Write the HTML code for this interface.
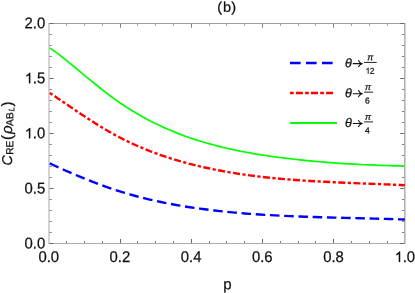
<!DOCTYPE html>
<html><head><meta charset="utf-8"><title>plot</title>
<style>
html,body{margin:0;padding:0;background:#fff;}
body{width:415px;height:293px;overflow:hidden;}
svg{display:block;will-change:transform;}
text{font-family:"Liberation Sans",sans-serif;fill:#111;stroke:#111;stroke-width:0.25px;text-rendering:geometricPrecision;}
</style></head><body>
<svg width="415" height="293" viewBox="0 0 415 293">
<rect width="415" height="293" fill="#fff"/>
<g shape-rendering="crispEdges">
<rect x="48" y="23" width="2" height="221" fill="#d3d3d3"/>
<rect x="404" y="23" width="1" height="221" fill="#b0b0b0"/>
<rect x="405" y="23" width="1" height="221" fill="#d4d4d4"/>
<rect x="49" y="23" width="356" height="1" fill="#9c9c9c"/>
<rect x="49" y="243" width="356" height="1" fill="#aaa"/>
</g>
<g stroke-width="1">
<rect x="66" y="241.00" width="1" height="2.00" fill="#808080"/>
<rect x="66" y="24" width="1" height="1.70" fill="#9a9a9a"/>
<rect x="84" y="241.00" width="1" height="2.00" fill="#808080"/>
<rect x="84" y="24" width="1" height="1.70" fill="#9a9a9a"/>
<rect x="102" y="241.00" width="1" height="2.00" fill="#808080"/>
<rect x="102" y="24" width="1" height="1.70" fill="#9a9a9a"/>
<rect x="120" y="239.00" width="1" height="4.00" fill="#6a6a6a"/>
<rect x="120" y="24" width="1" height="3.70" fill="#7c7c7c"/>
<rect x="137" y="241.00" width="1" height="2.00" fill="#808080"/>
<rect x="137" y="24" width="1" height="1.70" fill="#9a9a9a"/>
<rect x="155" y="241.00" width="1" height="2.00" fill="#808080"/>
<rect x="155" y="24" width="1" height="1.70" fill="#9a9a9a"/>
<rect x="173" y="241.00" width="1" height="2.00" fill="#808080"/>
<rect x="173" y="24" width="1" height="1.70" fill="#9a9a9a"/>
<rect x="191" y="239.00" width="1" height="4.00" fill="#6a6a6a"/>
<rect x="191" y="24" width="1" height="3.70" fill="#7c7c7c"/>
<rect x="209" y="241.00" width="1" height="2.00" fill="#808080"/>
<rect x="209" y="24" width="1" height="1.70" fill="#9a9a9a"/>
<rect x="226" y="241.00" width="1" height="2.00" fill="#808080"/>
<rect x="226" y="24" width="1" height="1.70" fill="#9a9a9a"/>
<rect x="244" y="241.00" width="1" height="2.00" fill="#808080"/>
<rect x="244" y="24" width="1" height="1.70" fill="#9a9a9a"/>
<rect x="262" y="239.00" width="1" height="4.00" fill="#6a6a6a"/>
<rect x="262" y="24" width="1" height="3.70" fill="#7c7c7c"/>
<rect x="280" y="241.00" width="1" height="2.00" fill="#808080"/>
<rect x="280" y="24" width="1" height="1.70" fill="#9a9a9a"/>
<rect x="298" y="241.00" width="1" height="2.00" fill="#808080"/>
<rect x="298" y="24" width="1" height="1.70" fill="#9a9a9a"/>
<rect x="315" y="241.00" width="1" height="2.00" fill="#808080"/>
<rect x="315" y="24" width="1" height="1.70" fill="#9a9a9a"/>
<rect x="333" y="239.00" width="1" height="4.00" fill="#6a6a6a"/>
<rect x="333" y="24" width="1" height="3.70" fill="#7c7c7c"/>
<rect x="351" y="241.00" width="1" height="2.00" fill="#808080"/>
<rect x="351" y="24" width="1" height="1.70" fill="#9a9a9a"/>
<rect x="369" y="241.00" width="1" height="2.00" fill="#808080"/>
<rect x="369" y="24" width="1" height="1.70" fill="#9a9a9a"/>
<rect x="387" y="241.00" width="1" height="2.00" fill="#808080"/>
<rect x="387" y="24" width="1" height="1.70" fill="#9a9a9a"/>
<rect x="49.5" y="243" width="4.00" height="1" fill="#6a6a6a"/>
<rect x="400.20" y="243" width="4.00" height="1" fill="#6a6a6a"/>
<rect x="49.5" y="232" width="2.20" height="1" fill="#808080"/>
<rect x="402.00" y="232" width="2.20" height="1" fill="#808080"/>
<rect x="49.5" y="221" width="2.20" height="1" fill="#808080"/>
<rect x="402.00" y="221" width="2.20" height="1" fill="#808080"/>
<rect x="49.5" y="210" width="2.20" height="1" fill="#808080"/>
<rect x="402.00" y="210" width="2.20" height="1" fill="#808080"/>
<rect x="49.5" y="199" width="2.20" height="1" fill="#808080"/>
<rect x="402.00" y="199" width="2.20" height="1" fill="#808080"/>
<rect x="49.5" y="188" width="4.00" height="1" fill="#6a6a6a"/>
<rect x="400.20" y="188" width="4.00" height="1" fill="#6a6a6a"/>
<rect x="49.5" y="177" width="2.20" height="1" fill="#808080"/>
<rect x="402.00" y="177" width="2.20" height="1" fill="#808080"/>
<rect x="49.5" y="166" width="2.20" height="1" fill="#808080"/>
<rect x="402.00" y="166" width="2.20" height="1" fill="#808080"/>
<rect x="49.5" y="155" width="2.20" height="1" fill="#808080"/>
<rect x="402.00" y="155" width="2.20" height="1" fill="#808080"/>
<rect x="49.5" y="144" width="2.20" height="1" fill="#808080"/>
<rect x="402.00" y="144" width="2.20" height="1" fill="#808080"/>
<rect x="49.5" y="133" width="4.00" height="1" fill="#6a6a6a"/>
<rect x="400.20" y="133" width="4.00" height="1" fill="#6a6a6a"/>
<rect x="49.5" y="122" width="2.20" height="1" fill="#808080"/>
<rect x="402.00" y="122" width="2.20" height="1" fill="#808080"/>
<rect x="49.5" y="111" width="2.20" height="1" fill="#808080"/>
<rect x="402.00" y="111" width="2.20" height="1" fill="#808080"/>
<rect x="49.5" y="100" width="2.20" height="1" fill="#808080"/>
<rect x="402.00" y="100" width="2.20" height="1" fill="#808080"/>
<rect x="49.5" y="89" width="2.20" height="1" fill="#808080"/>
<rect x="402.00" y="89" width="2.20" height="1" fill="#808080"/>
<rect x="49.5" y="78" width="4.00" height="1" fill="#6a6a6a"/>
<rect x="400.20" y="78" width="4.00" height="1" fill="#6a6a6a"/>
<rect x="49.5" y="67" width="2.20" height="1" fill="#808080"/>
<rect x="402.00" y="67" width="2.20" height="1" fill="#808080"/>
<rect x="49.5" y="56" width="2.20" height="1" fill="#808080"/>
<rect x="402.00" y="56" width="2.20" height="1" fill="#808080"/>
<rect x="49.5" y="45" width="2.20" height="1" fill="#808080"/>
<rect x="402.00" y="45" width="2.20" height="1" fill="#808080"/>
<rect x="49.5" y="34" width="2.20" height="1" fill="#808080"/>
<rect x="402.00" y="34" width="2.20" height="1" fill="#808080"/>
<rect x="49.5" y="23" width="4.00" height="1" fill="#6a6a6a"/>
<rect x="400.20" y="23" width="4.00" height="1" fill="#6a6a6a"/>
</g>
<clipPath id="cp"><rect x="49" y="23" width="356" height="221"/></clipPath>
<g fill="none" clip-path="url(#cp)">
<path d="M49.80,48.04 L54.80,51.39 L59.80,55.10 L64.80,59.05 L69.80,63.13 L74.80,67.26 L79.80,71.41 L84.80,75.56 L89.80,79.69 L94.80,83.77 L99.80,87.78 L104.80,91.70 L109.80,95.50 L114.80,99.17 L119.80,102.68 L124.80,106.03 L129.80,109.24 L134.80,112.30 L139.80,115.22 L144.80,118.01 L149.80,120.66 L154.80,123.19 L159.80,125.60 L164.80,127.89 L169.80,130.06 L174.80,132.13 L179.80,134.09 L184.80,135.96 L189.80,137.72 L194.80,139.40 L199.80,140.99 L204.80,142.50 L209.80,143.93 L214.80,145.29 L219.80,146.57 L224.80,147.79 L229.80,148.94 L234.80,150.02 L239.80,151.05 L244.80,152.02 L249.80,152.93 L254.80,153.80 L259.80,154.62 L264.80,155.39 L269.80,156.12 L274.80,156.81 L279.80,157.47 L284.80,158.09 L289.80,158.69 L294.80,159.26 L299.80,159.80 L304.80,160.32 L309.80,160.82 L314.80,161.29 L319.80,161.73 L324.80,162.16 L329.80,162.56 L334.80,162.94 L339.80,163.29 L344.80,163.62 L349.80,163.93 L354.80,164.22 L359.80,164.49 L364.80,164.74 L369.80,164.96 L374.80,165.17 L379.80,165.35 L384.80,165.52 L389.80,165.67 L394.80,165.79 L399.80,165.90 L404.80,165.99" stroke="#00ff00" stroke-width="1.7"/>
<path d="M49.80,93.06 L54.80,96.37 L59.80,99.72 L64.80,103.10 L69.80,106.49 L74.80,109.87 L79.80,113.23 L84.80,116.55 L89.80,119.83 L94.80,123.03 L99.80,126.15 L104.80,129.17 L109.80,132.07 L114.80,134.85 L119.80,137.51 L124.80,140.04 L129.80,142.46 L134.80,144.77 L139.80,146.97 L144.80,149.07 L149.80,151.06 L154.80,152.96 L159.80,154.76 L164.80,156.48 L169.80,158.11 L174.80,159.66 L179.80,161.13 L184.80,162.53 L189.80,163.86 L194.80,165.12 L199.80,166.32 L204.80,167.46 L209.80,168.54 L214.80,169.57 L219.80,170.54 L224.80,171.47 L229.80,172.34 L234.80,173.16 L239.80,173.94 L244.80,174.68 L249.80,175.37 L254.80,176.02 L259.80,176.63 L264.80,177.20 L269.80,177.74 L274.80,178.24 L279.80,178.71 L284.80,179.16 L289.80,179.57 L294.80,179.95 L299.80,180.31 L304.80,180.65 L309.80,180.97 L314.80,181.26 L319.80,181.54 L324.80,181.80 L329.80,182.05 L334.80,182.29 L339.80,182.51 L344.80,182.72 L349.80,182.93 L354.80,183.13 L359.80,183.33 L364.80,183.53 L369.80,183.72 L374.80,183.92 L379.80,184.12 L384.80,184.33 L389.80,184.54 L394.80,184.76 L399.80,184.99 L404.80,185.24" stroke="#ff0000" stroke-width="2.4" stroke-dasharray="3.22 2.42 7.05 2.42"/>
<path d="M49.80,163.45 L54.80,165.75 L59.80,168.01 L64.80,170.24 L69.80,172.43 L74.80,174.58 L79.80,176.68 L84.80,178.74 L89.80,180.73 L94.80,182.68 L99.80,184.56 L104.80,186.37 L109.80,188.12 L114.80,189.80 L119.80,191.40 L124.80,192.93 L129.80,194.39 L134.80,195.78 L139.80,197.11 L144.80,198.37 L149.80,199.57 L154.80,200.71 L159.80,201.79 L164.80,202.82 L169.80,203.79 L174.80,204.72 L179.80,205.59 L184.80,206.42 L189.80,207.20 L194.80,207.95 L199.80,208.65 L204.80,209.31 L209.80,209.94 L214.80,210.53 L219.80,211.09 L224.80,211.62 L229.80,212.12 L234.80,212.59 L239.80,213.03 L244.80,213.44 L249.80,213.83 L254.80,214.19 L259.80,214.52 L264.80,214.84 L269.80,215.13 L274.80,215.41 L279.80,215.66 L284.80,215.90 L289.80,216.13 L294.80,216.33 L299.80,216.53 L304.80,216.71 L309.80,216.88 L314.80,217.04 L319.80,217.19 L324.80,217.33 L329.80,217.46 L334.80,217.60 L339.80,217.72 L344.80,217.85 L349.80,217.97 L354.80,218.09 L359.80,218.21 L364.80,218.34 L369.80,218.47 L374.80,218.60 L379.80,218.74 L384.80,218.89 L389.80,219.04 L394.80,219.20 L399.80,219.38 L404.80,219.56" stroke="#0000ff" stroke-width="2.4" stroke-dasharray="9.56 4.68"/>
</g>
<text transform="translate(38.38,262.00) rotate(0.03) scale(1,1.05)" text-anchor="start" style="font-size:14.85px" >0.0</text>
<text transform="translate(109.58,262.00) rotate(0.03) scale(1,1.05)" text-anchor="start" style="font-size:14.85px" >0.2</text>
<text transform="translate(180.78,262.00) rotate(0.03) scale(1,1.05)" text-anchor="start" style="font-size:14.85px" >0.4</text>
<text transform="translate(251.98,262.00) rotate(0.03) scale(1,1.05)" text-anchor="start" style="font-size:14.85px" >0.6</text>
<text transform="translate(323.18,262.00) rotate(0.03) scale(1,1.05)" text-anchor="start" style="font-size:14.85px" >0.8</text>
<path d="M400.13,262.00 L398.83,262.00 L398.83,253.89 Q398.01,254.65 396.22,255.34 L396.22,254.11 Q398.52,253.06 399.29,251.59 L400.13,251.59 Z" fill="#111" stroke="#111" stroke-width="0.2"/>
<text transform="translate(402.64,262.00) rotate(0.03) scale(1,1.05)" text-anchor="start" style="font-size:14.85px" >.0</text>
<text transform="translate(24.56,248.50) rotate(0.03) scale(1,1.05)" text-anchor="start" style="font-size:14.85px" >0.0</text>
<text transform="translate(24.56,193.43) rotate(0.03) scale(1,1.05)" text-anchor="start" style="font-size:14.85px" >0.5</text>
<path d="M30.27,138.35 L28.96,138.35 L28.96,130.24 Q28.14,131.00 26.35,131.69 L26.35,130.46 Q28.65,129.41 29.43,127.94 L30.27,127.94 Z" fill="#111" stroke="#111" stroke-width="0.2"/>
<text transform="translate(32.82,138.35) rotate(0.03) scale(1,1.05)" text-anchor="start" style="font-size:14.85px" >.0</text>
<path d="M30.27,83.28 L28.96,83.28 L28.96,75.17 Q28.14,75.92 26.35,76.62 L26.35,75.39 Q28.65,74.33 29.43,72.87 L30.27,72.87 Z" fill="#111" stroke="#111" stroke-width="0.2"/>
<text transform="translate(32.82,83.28) rotate(0.03) scale(1,1.05)" text-anchor="start" style="font-size:14.85px" >.5</text>
<text transform="translate(24.56,28.20) rotate(0.03) scale(1,1.05)" text-anchor="start" style="font-size:14.85px" >2.0</text>
<text transform="translate(217.30,11.65) rotate(0.03) scale(1,0.97)" text-anchor="start" style="font-size:14.5px" >(</text><text transform="translate(222.97,11.65) rotate(0.03) scale(1,0.97)" text-anchor="start" style="font-size:14.5px" >b</text><text transform="translate(231.25,11.65) rotate(0.03) scale(1,0.97)" text-anchor="start" style="font-size:14.5px" >)</text>
<text transform="translate(227.30,289.15) rotate(0.03) scale(1,1.02)" text-anchor="middle" style="font-size:15px" >p</text>
<g transform="translate(12,165.5) rotate(-89.97)">
<text x="0" y="0" style="font-size:15px"><tspan font-style="italic" style="font-size:14.2px">C</tspan><tspan dx="0.4" dy="1.2" style="font-size:10.2px">RE</tspan><tspan dx="0.6" dy="-1.2">(</tspan><tspan dx="1.2" font-style="italic">ρ</tspan><tspan dx="-0.6" dy="1.3" style="font-size:10.2px">AB</tspan><tspan dx="0.7" dy="1.0" style="font-size:8px" font-style="italic">L</tspan><tspan dx="0.7" dy="-2.3">)</tspan></text>
</g>
<g fill="none">
<line x1="290" y1="63" x2="337" y2="63" stroke="#0000ff" stroke-width="2.5" stroke-dasharray="10.6 5.4"/>
<line x1="290" y1="93" x2="334.5" y2="93" stroke="#ff0000" stroke-width="2.5" stroke-dasharray="3.7 2.2 7 2.2"/>
<line x1="290" y1="123" x2="337" y2="123" stroke="#00ff00" stroke-width="1.8"/>
</g>
<text transform="translate(345.00,67.20) rotate(0.03) scale(1,1.0)" text-anchor="start" style="font-size:12.5px" font-style="italic">θ</text>
<path d="M352.8,63.65 H361.3 M358.3,60.25 Q359.4,62.75 361.9,63.65 Q359.4,64.55 358.3,67.05" fill="none" stroke="#111" stroke-width="1.1"/>
<rect x="364" y="61.90" width="12.7" height="1" fill="#222"/>
<text transform="translate(370.30,60.35) rotate(0.03) scale(1,1.0)" text-anchor="middle" style="font-size:9px" font-style="italic">π</text>
<path d="M368.54,73.65 L367.79,73.65 L367.79,69.01 Q367.32,69.44 366.30,69.84 L366.30,69.13 Q367.61,68.53 368.06,67.69 L368.54,67.69 Z" fill="#111" stroke="#111" stroke-width="0.2"/>
<text transform="translate(369.80,73.65) rotate(0.03) scale(1,1.0)" text-anchor="start" style="font-size:8.5px" >2</text>
<text transform="translate(345.00,97.25) rotate(0.03) scale(1,1.0)" text-anchor="start" style="font-size:12.5px" font-style="italic">θ</text>
<path d="M352.8,93.70 H361.3 M358.3,90.30 Q359.4,92.80 361.9,93.70 Q359.4,94.60 358.3,97.10" fill="none" stroke="#111" stroke-width="1.1"/>
<rect x="364" y="91.65" width="9.1" height="1" fill="#222"/>
<text transform="translate(368.00,90.10) rotate(0.03) scale(1,1.0)" text-anchor="middle" style="font-size:9px" font-style="italic">π</text>
<text transform="translate(364.94,103.40) rotate(0.03) scale(1,1.0)" text-anchor="start" style="font-size:8.5px" >6</text>
<text transform="translate(345.00,127.10) rotate(0.03) scale(1,1.0)" text-anchor="start" style="font-size:12.5px" font-style="italic">θ</text>
<path d="M352.8,123.55 H361.3 M358.3,120.15 Q359.4,122.65 361.9,123.55 Q359.4,124.45 358.3,126.95" fill="none" stroke="#111" stroke-width="1.1"/>
<rect x="364" y="121.40" width="9.1" height="1" fill="#222"/>
<text transform="translate(368.00,119.85) rotate(0.03) scale(1,1.0)" text-anchor="middle" style="font-size:9px" font-style="italic">π</text>
<text transform="translate(364.94,133.15) rotate(0.03) scale(1,1.0)" text-anchor="start" style="font-size:8.5px" >4</text>
</svg>
</body></html>
